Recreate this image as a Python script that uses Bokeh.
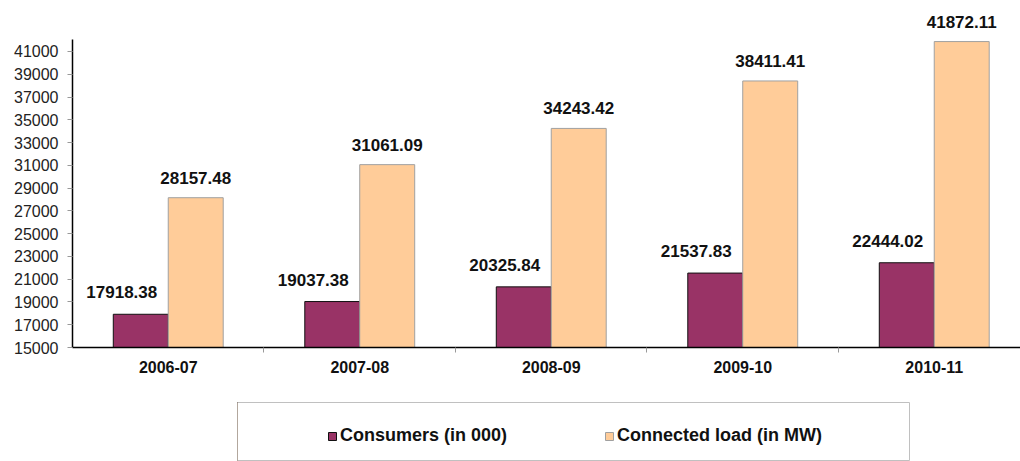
from bokeh.plotting import figure
from bokeh.models import (Range1d, FixedTicker, ColumnDataSource, Legend, LegendItem, Spacer)
from bokeh.layouts import column, row
from bokeh.core.properties import value
from bokeh.embed import file_html
from bokeh.resources import INLINE

years = ["2006-07", "2007-08", "2008-09", "2009-10", "2010-11"]
consumers = [17918.38, 19037.38, 20325.84, 21537.83, 22444.02]
connected_load = [28157.48, 31061.09, 34243.42, 38411.41, 41872.11]
y_ticks = list(range(15000, 41001, 2000))

PINK = "#993366"
PEACH = "#FFCC99"
BAR_W = 0.287
FONT = "Liberation Sans"

centers = [i + 0.5 for i in range(len(years))]
src = ColumnDataSource(dict(
    xc=[c - BAR_W / 2 for c in centers],
    xl=[c + BAR_W / 2 for c in centers],
    cons=consumers,
    load=connected_load,
    cons_lbl=[f"{v:.2f}" for v in consumers],
    load_lbl=[f"{v:.2f}" for v in connected_load],
))

p = figure(width=1020, height=402, output_backend="svg", toolbar_location=None,
           x_range=Range1d(0, 4.9504), y_range=Range1d(15000, 45479),
           min_border_left=72, min_border_right=0, min_border_top=0, min_border_bottom=55)
p.outline_line_color = None
p.grid.visible = False

p.vbar(x="xc", top="cons", bottom=15000, width=BAR_W, source=src,
       fill_color=PINK, line_color="#111111", line_width=1)
p.vbar(x="xl", top="load", bottom=15000, width=BAR_W, source=src,
       fill_color=PEACH, line_color="#a0a0a0", line_width=1)

p.text(x="xc", y="cons", text="cons_lbl", source=src, text_align="center",
       text_baseline="alphabetic", y_offset=-22, x_offset=-19,
       text_font=value(FONT), text_font_style="bold", text_font_size="17px",
       text_color="#111111")
p.text(x="xl", y="load", text="load_lbl", source=src, text_align="center",
       text_baseline="alphabetic", y_offset=-20,
       text_font=value(FONT), text_font_style="bold", text_font_size="17px",
       text_color="#111111")

# x axis
p.xaxis.ticker = FixedTicker(ticks=centers, minor_ticks=[1, 2, 3, 4])
p.xaxis.major_label_overrides = {c: y for c, y in zip(centers, years)}
p.xaxis.major_tick_out = 0
p.xaxis.major_tick_in = 0
p.xaxis.minor_tick_out = 5
p.xaxis.minor_tick_in = 0
p.xaxis.minor_tick_line_color = "#999999"
p.xaxis.axis_line_color = "#000000"
p.xaxis.axis_line_width = 1.5
p.xaxis.major_label_standoff = 8
p.xaxis.major_label_text_font = FONT
p.xaxis.major_label_text_font_style = "bold"
p.xaxis.major_label_text_font_size = "16px"
p.xaxis.major_label_text_color = "#111111"

# y axis
p.yaxis.ticker = FixedTicker(ticks=y_ticks)
p.yaxis.bounds = (15000, 42010)
p.yaxis.major_tick_out = 5
p.yaxis.major_tick_in = 0
p.yaxis.minor_tick_line_color = None
p.yaxis.major_tick_line_color = "#999999"
p.yaxis.axis_line_color = "#000000"
p.yaxis.axis_line_width = 1.5
p.yaxis.major_label_standoff = 9
p.yaxis.major_label_text_font = FONT
p.yaxis.major_label_text_font_size = "16px"
p.yaxis.major_label_text_color = "#222222"

# legend box as separate figure (its bars are out of its visible range)
lf = figure(width=673, height=59, output_backend="svg", toolbar_location=None,
            x_range=Range1d(100, 101), y_range=Range1d(100, 101),
            x_axis_location=None, y_axis_location=None,
            min_border=0)
lf.grid.visible = False
lf.outline_line_color = "#c0c0c0"
lf.outline_line_width = 1
r1 = lf.vbar(x="xc", top="cons", width=BAR_W, source=src,
             fill_color=PINK, line_color="#111111")
r2 = lf.vbar(x="xl", top="load", width=BAR_W, source=src,
             fill_color=PEACH, line_color="#a0a0a0")
leg = Legend(items=[LegendItem(label="Consumers (in 000)", renderers=[r1]),
                    LegendItem(label="Connected load (in MW)", renderers=[r2])],
             location=(90, 15), orientation="horizontal",
             padding=0, margin=0, spacing=64,
             glyph_width=10, glyph_height=10, label_standoff=3,
             label_width=200, label_height=18,
             label_text_font=FONT, label_text_font_style="bold",
             label_text_font_size="18px", label_text_color="#111111",
             border_line_alpha=0, background_fill_alpha=0)
lf.add_layout(leg, "center")

layout = column(p, row(Spacer(width=237, height=59), lf))
open("out.html", "w").write(file_html(layout, INLINE))
